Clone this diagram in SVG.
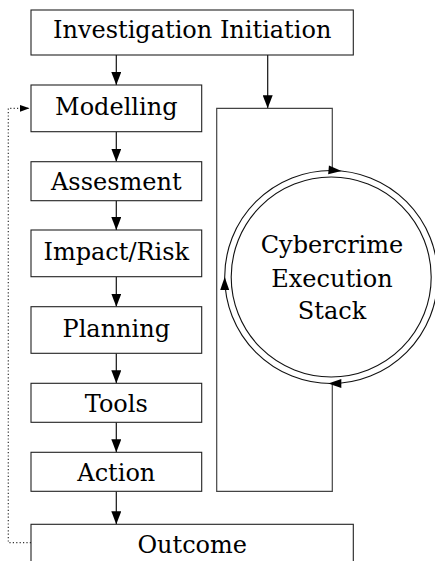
<svg xmlns="http://www.w3.org/2000/svg" xmlns:xlink="http://www.w3.org/1999/xlink" width="435" height="561" viewBox="0 0 435 561">
  <style>
    .box { fill: #ffffff; stroke: #222222; stroke-width: 1.1; }
    .lbl { font-family: "DejaVu Serif", "Liberation Serif", serif; font-size: 24px; fill: #000000; text-anchor: middle; }
    .flow { fill: none; stroke: #111111; stroke-width: 1.2; }
    .loop { fill: none; stroke: #444444; stroke-width: 1.2; }
    .ring { fill: none; stroke: #111111; stroke-width: 1.1; }
    .back { fill: none; stroke: #333333; stroke-width: 1.2; stroke-dasharray: 1.2 2.2; }
    .head { fill: #000000; }
  </style>
  <defs>
    <marker id="arrow" viewBox="0 0 13 10" refX="13" refY="5" markerWidth="13" markerHeight="10" markerUnits="userSpaceOnUse" orient="auto">
      <path d="M0,0 L13,5 L0,10 Z" fill="#000000"/>
    </marker>
    <marker id="arrow-small" viewBox="0 0 10 7" refX="10" refY="3.5" markerWidth="10" markerHeight="7" markerUnits="userSpaceOnUse" orient="auto">
      <path d="M0,0 L10,3.5 L0,7 Z" fill="#000000"/>
    </marker>
    <!-- arrowhead on the ring, tip at the origin pointing along +x -->
    <path id="ring-head" d="M0,0 L-13,-4.5 L-13,4.5 Z"/>
  </defs>

  <!-- connectors -->
  <g id="connectors">
    <line class="flow" x1="116.3" y1="55" x2="116.3" y2="85" marker-end="url(#arrow)"/>
    <line class="flow" x1="116.3" y1="131.7" x2="116.3" y2="161.7" marker-end="url(#arrow)"/>
    <line class="flow" x1="116.3" y1="200.7" x2="116.3" y2="230" marker-end="url(#arrow)"/>
    <line class="flow" x1="116.3" y1="276.7" x2="116.3" y2="306.7" marker-end="url(#arrow)"/>
    <line class="flow" x1="116.3" y1="353.3" x2="116.3" y2="383.3" marker-end="url(#arrow)"/>
    <line class="flow" x1="116.3" y1="422.3" x2="116.3" y2="452.3" marker-end="url(#arrow)"/>
    <line class="flow" x1="116.3" y1="491.3" x2="116.3" y2="524.3" marker-end="url(#arrow)"/>
    <line class="flow" x1="267.7" y1="55" x2="267.7" y2="108.3" marker-end="url(#arrow)"/>

    <!-- loop frame feeding the execution stack -->
    <path class="loop" d="M332.3,170.8 L332.3,108.3 L216.7,108.3 L216.7,491.3 L332.3,491.3 L332.3,383.5"/>

    <!-- feedback from outcome back to modelling -->
    <path class="back" d="M31,542.7 L8.3,542.7 L8.3,108.3 L29.5,108.3" marker-end="url(#arrow-small)"/>
  </g>

  <g id="investigation-initiation">
    <rect class="box" x="31" y="10" width="322.3" height="45"/>
    <text class="lbl" x="192.2" y="37.6">Investigation Initiation</text>
  </g>
  <g id="modelling">
    <rect class="box" x="31" y="85" width="170.7" height="46.7"/>
    <text class="lbl" x="116.3" y="115.2">Modelling</text>
  </g>
  <g id="assesment">
    <rect class="box" x="31" y="161.7" width="170.7" height="39"/>
    <text class="lbl" x="116.3" y="190.2">Assesment</text>
  </g>
  <g id="impact-risk">
    <rect class="box" x="31" y="230" width="170.7" height="46.7"/>
    <text class="lbl" x="116.3" y="260.2">Impact/Risk</text>
  </g>
  <g id="planning">
    <rect class="box" x="31" y="306.7" width="170.7" height="46.6"/>
    <text class="lbl" x="116.3" y="336.9">Planning</text>
  </g>
  <g id="tools">
    <rect class="box" x="31" y="383.3" width="170.7" height="39"/>
    <text class="lbl" x="116.3" y="411.9">Tools</text>
  </g>
  <g id="action">
    <rect class="box" x="31" y="452.3" width="170.7" height="39"/>
    <text class="lbl" x="116.3" y="480.9">Action</text>
  </g>
  <g id="outcome">
    <rect class="box" x="31" y="524.3" width="322.3" height="60"/>
    <text class="lbl" x="192.2" y="552.9">Outcome</text>
  </g>

  <g id="cybercrime-execution-stack">
    <circle class="ring" cx="331.2" cy="277" r="106.5"/>
    <circle class="ring" cx="331.2" cy="277" r="100"/>
    <use xlink:href="#ring-head" class="head" transform="translate(341.5,171) rotate(5)"/>
    <use xlink:href="#ring-head" class="head" transform="translate(224.7,277) rotate(-90)"/>
    <use xlink:href="#ring-head" class="head" transform="translate(328.3,383.5) rotate(180)"/>
    <text class="lbl" x="332" y="252.7">Cybercrime</text>
    <text class="lbl" x="332" y="287.2">Execution</text>
    <text class="lbl" x="332" y="318.7">Stack</text>
  </g>
</svg>
